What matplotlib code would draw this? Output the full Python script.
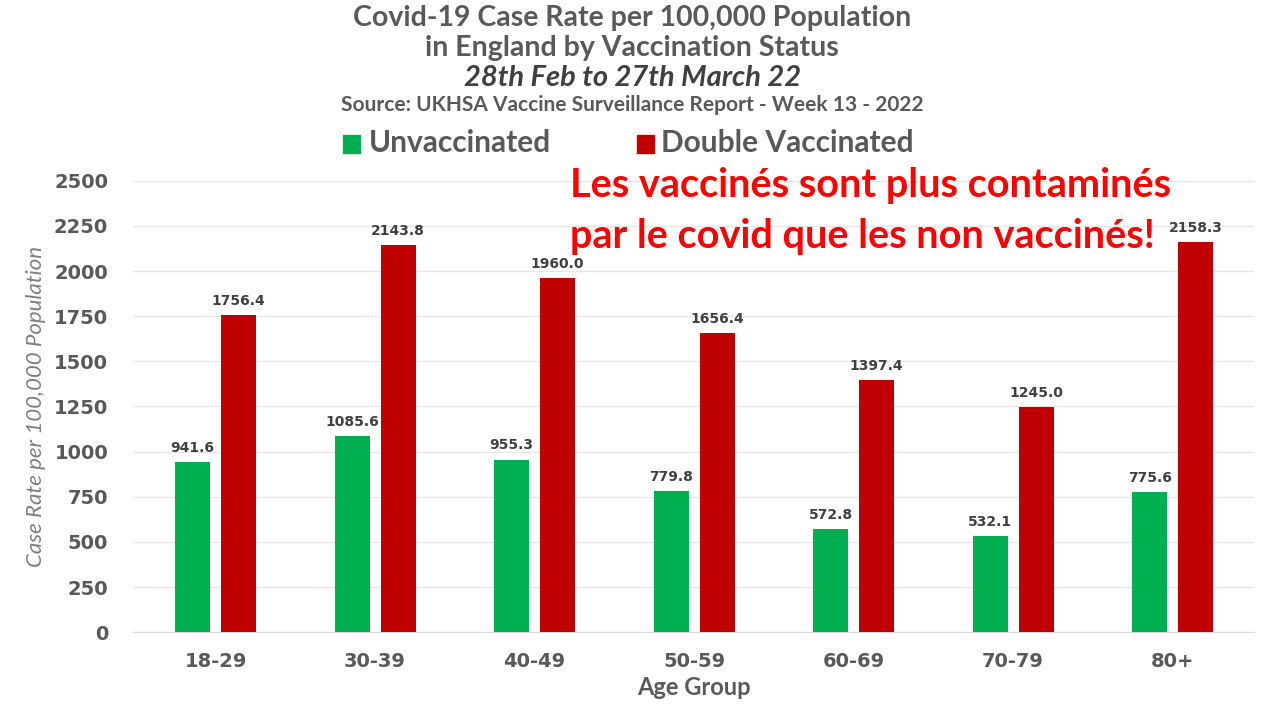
import numpy as np
import matplotlib.pyplot as plt

plt.rcParams['font.family'] = ['Lato', 'DejaVu Sans']

age_groups = ['18-29', '30-39', '40-49', '50-59', '60-69', '70-79', '80+']
unvaccinated = [941.6, 1085.6, 955.3, 779.8, 572.8, 532.1, 775.6]
double_vacc = [1756.4, 2143.8, 1960.0, 1656.4, 1397.4, 1245.0, 2158.3]
y_ticks = [0, 250, 500, 750, 1000, 1250, 1500, 1750, 2000, 2250, 2500]

green = '#00B050'
red = '#C00000'
grey = '#595959'
wide = ['DejaVu Sans']

fig = plt.figure(figsize=(12.8, 7.2), dpi=100)
ax = fig.add_axes([0.104, 0.122, 0.876, 0.627])

x = np.arange(len(age_groups))
w = 0.22
off = 0.144
b1 = ax.bar(x - off, unvaccinated, w, color=green, zorder=3)
b2 = ax.bar(x + off, double_vacc, w, color=red, zorder=3)

for bars, vals in [(b1, unvaccinated), (b2, double_vacc)]:
    for r, v in zip(bars, vals):
        ax.text(r.get_x() + r.get_width() / 2, v + 40, '%.1f' % v,
                ha='center', va='bottom', fontsize=10, fontweight='bold',
                color='#404040', family=wide)

ax.set_xlim(-0.517, 6.513)
ax.set_ylim(0, 2500)
ax.set_yticks(y_ticks)
ax.set_xticks(x)
ax.set_xticklabels(age_groups, fontsize=14, fontweight='bold', color=grey, family=wide)
ax.set_yticklabels([str(t) for t in y_ticks], fontsize=14, fontweight='bold', color=grey, family=wide)
ax.tick_params(length=0, pad=18)
ax.tick_params(axis='x', pad=14)
ax.grid(axis='y', color='#e6e6e6', linewidth=1, zorder=0)
for s in ['top', 'right', 'left']:
    ax.spines[s].set_visible(False)
ax.spines['bottom'].set_color('#d9d9d9')

ax.set_ylabel('Case Rate per 100,000 Population', fontsize=16, style='italic', color='#7f7f7f', labelpad=6)
ax.set_xlabel('Age Group', fontsize=17, fontweight='bold', color=grey, labelpad=4)

fig.text(0.494, 0.975, 'Covid-19 Case Rate per 100,000 Population', ha='center', va='center',
         fontsize=20.5, fontweight='bold', color=grey)
fig.text(0.494, 0.933, 'in England by Vaccination Status', ha='center', va='center',
         fontsize=20.5, fontweight='bold', color=grey)
fig.text(0.494, 0.891, '28th Feb to 27th March 22', ha='center', va='center',
         fontsize=21, fontweight='bold', style='italic', color='#404040')
fig.text(0.494, 0.854, 'Source: UKHSA Vaccine Surveillance Report - Week 13 - 2022', ha='center', va='center',
         fontsize=15, fontweight='bold', color=grey)

# legend
fig.patches.append(plt.Rectangle((0.268, 0.788), 0.0133, 0.024, color=green, transform=fig.transFigure))
fig.text(0.288, 0.801, 'Unvaccinated', va='center', fontsize=21.5, fontweight='bold', color=grey)
fig.patches.append(plt.Rectangle((0.498, 0.788), 0.0133, 0.024, color=red, transform=fig.transFigure))
fig.text(0.5165, 0.801, 'Double Vaccinated', va='center', fontsize=21.5, fontweight='bold', color=grey)

fig.text(0.445, 0.742, 'Les vaccinés sont plus contaminés', va='center',
         fontsize=28.5, fontweight='bold', color='#FF0000')
fig.text(0.445, 0.672, 'par le covid que les non vaccinés!', va='center',
         fontsize=28.5, fontweight='bold', color='#FF0000')

plt.savefig('out.png', dpi=100)
